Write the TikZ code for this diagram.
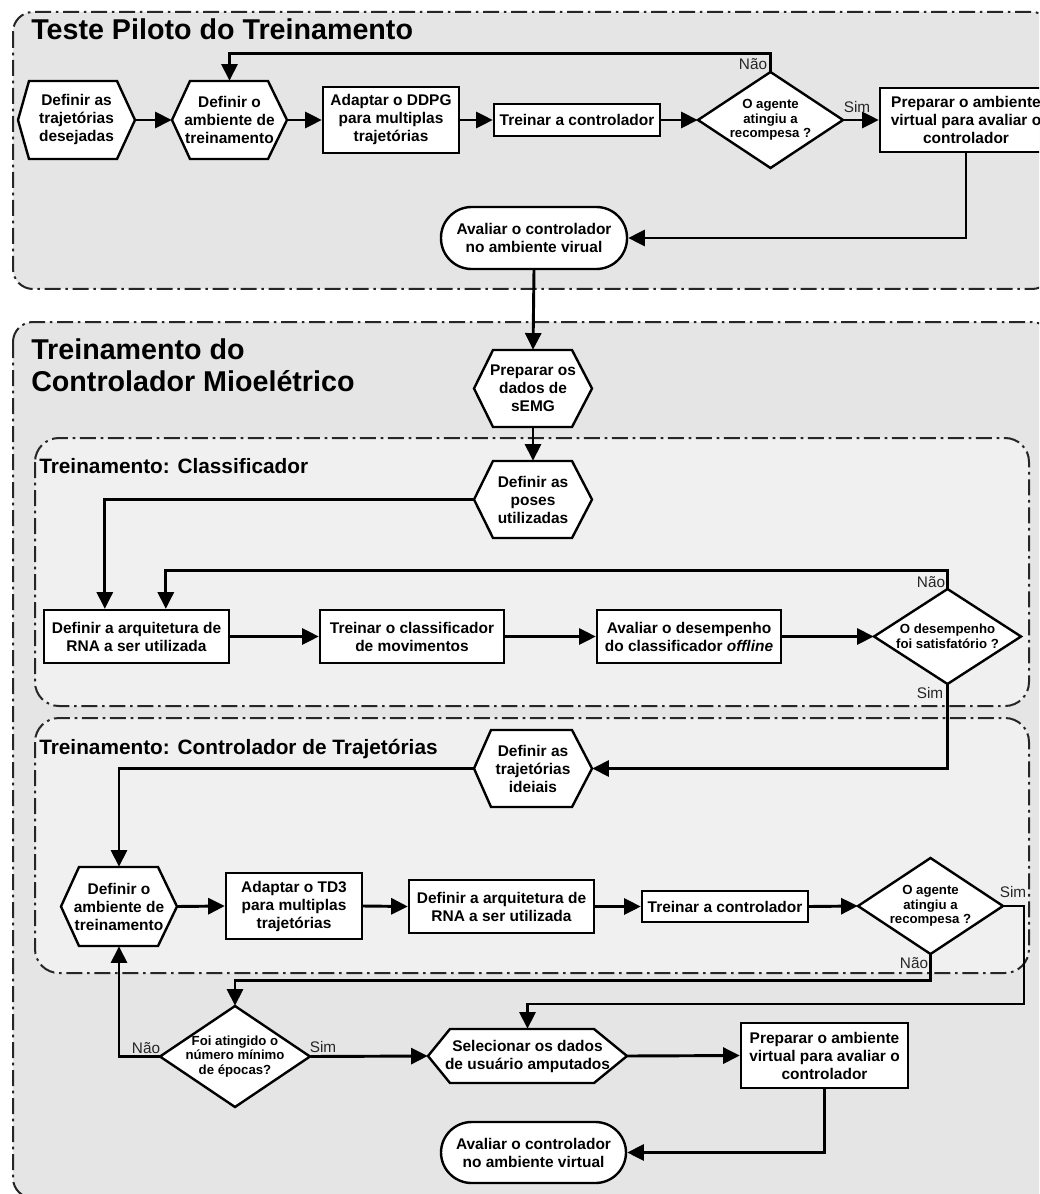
\documentclass[tikz,border=0pt]{standalone}
\usepackage{fontspec}
\setmainfont{Liberation Sans}
\usetikzlibrary{arrows.meta,calc}
\definecolor{outerfill}{HTML}{E5E5E5}
\definecolor{innerfill}{HTML}{F0F0F0}

\tikzset{
  group/.style={line width=1.5pt, dash pattern=on 12pt off 3.5pt on 2pt off 3.5pt, draw=black!85},
  outergroup/.style={group, fill=outerfill, rounded corners=15pt},
  innergroup/.style={group, fill=innerfill, rounded corners=18pt},
  shapeline/.style={draw=black, line width=1.8pt, fill=white, line join=miter},
  txt/.style={font=\bfseries\fontsize{11.6}{13.5}\selectfont, align=center},
  dtxt/.style={font=\bfseries\fontsize{9.9}{11}\selectfont, align=center},
  box/.style={shapeline, txt, inner sep=0pt},
  term/.style={box, rounded corners=23pt},
  ghost/.style={inner sep=0pt, draw=none},
  flow/.style={line width=2.2pt, -{Triangle[length=12.5pt,width=12pt]}},
  answer/.style={font=\fontsize{11.5}{13}\selectfont, text=black!85, inner sep=0pt},
  heading/.style={font=\bfseries\fontsize{21.5}{24}\selectfont, anchor=base west, inner sep=0pt},
  subheading/.style={font=\bfseries\fontsize{15.6}{18}\selectfont, anchor=base west, inner sep=0pt},
}

% rectangle: name, x left, x right, y top, y bottom, text
\newcommand\rectnode[6]{%
  \node[box, minimum width={(#3-#2)*0.75pt}, minimum height={(#5-#4)*0.75pt}]
    (#1) at ({(#2+#3)/2},{(#4+#5)/2}) {#6};}
% terminal (stadium): same arguments
\newcommand\termnode[6]{%
  \node[term, minimum width={(#3-#2)*0.75pt}, minimum height={(#5-#4)*0.75pt}]
    (#1) at ({(#2+#3)/2},{(#4+#5)/2}) {#6};}
% hexagon: name, x left, x right, y top, y bottom, left slant, right slant, text
\newcommand\hexnode[8]{%
  \draw[shapeline] (#2,{(#4+#5)/2}) -- ({#2+#6},#4) -- ({#3-#7},#4) -- (#3,{(#4+#5)/2})
    -- ({#3-#7},#5) -- ({#2+#6},#5) -- cycle;
  \node[ghost, txt, minimum width={(#3-#2)*0.75pt}, minimum height={(#5-#4)*0.75pt}]
    (#1) at ({(#2+#3)/2},{(#4+#5)/2}) {#8};}
% decision diamond: name, centre x, centre y, half width, half height, text
\newcommand\dianode[6]{%
  \draw[shapeline] ({#2-#4},#3) -- (#2,{#3-#5}) -- ({#2+#4},#3) -- (#2,{#3+#5}) -- cycle;
  \node[ghost, dtxt, minimum width={2*#4*0.75pt}, minimum height={2*#5*0.75pt}]
    (#1) at (#2,#3) {#6};}

\begin{document}
\begin{tikzpicture}[x=0.75pt,y=-0.75pt]
\useasboundingbox (0,0) rectangle (1039,1194);
\fill[white] (0,0) rectangle (1039,1194);
\begin{scope}
\clip (0,0) rectangle (1039,1194);

% ---------------- group frames ----------------
\draw[outergroup] (13,12) rectangle (1052,289);
\draw[outergroup] (13,322) rectangle (1052,1198);
\draw[innergroup] (35,438) rectangle (1029,706);
\draw[innergroup] (35,718) rectangle (1029,973);

\node[heading] (title1) at (31,40) {Teste Piloto do Treinamento};
\node[heading] (title2a) at (31,359) {Treinamento do};
\node[heading] (title2b) at (31,391) {Controlador Mioelétrico};
\node[subheading] (title3) at (39,473) {Treinamento: Classificador};
\node[subheading] (title4) at (39,754) {Treinamento: Controlador de Trajetórias};

% ---------------- pilot test ----------------
\hexnode{h1}{18}{135}{81}{159}{11}{18}{Definir as\\trajetórias\\desejadas}
\hexnode{h2}{172}{287}{81}{159}{18}{19}{Definir o\\ambiente de\\treinamento}
\rectnode{ddpg}{323}{459}{87}{153}{Adaptar o DDPG\\para multiplas\\trajetórias}
\rectnode{tr1}{494}{660}{104}{136}{Treinar a controlador}
\dianode{d1}{770.5}{120}{72.5}{48}{O agente\\atingiu a\\recompesa ?}
\rectnode{prep1}{880}{1052}{88}{152}{Preparar o ambiente\\virtual para avaliar o\\controlador}
\termnode{term1}{441}{627}{207}{269}{Avaliar o controlador\\no ambiente virual}

% ---------------- myoelectric controller ----------------
\hexnode{semg}{474}{592}{350}{427}{19}{20}{Preparar os\\dados de\\sEMG}
\hexnode{poses}{474}{592}{461}{538}{19}{20}{Definir as\\poses\\utilizadas}
\rectnode{arq1}{44}{229}{610}{663}{Definir a arquitetura de\\RNA a ser utilizada}
\rectnode{trcls}{320}{504}{610}{663}{Treinar o classificador\\de movimentos}
\rectnode{aval}{597}{781}{610}{663}{Avaliar o desempenho\\do classificador \textit{offline}}
\dianode{d2}{947.5}{636.5}{73.5}{47.5}{O desempenho\\foi satisfatório ?}

\hexnode{ideais}{474}{592}{730}{807}{17}{20}{Definir as\\trajetórias\\ideiais}
\hexnode{env2}{61}{177}{867}{946}{18}{19}{Definir o\\ambiente de\\treinamento}
\rectnode{td3}{226}{362}{873}{939}{Adaptar o TD3\\para multiplas\\trajetórias}
\rectnode{arq2}{409}{594}{880}{933}{Definir a arquitetura de\\RNA a ser utilizada}
\rectnode{tr2}{642}{808}{891}{922}{Treinar a controlador}
\dianode{d3}{930.5}{906}{72.5}{48}{O agente\\atingiu a\\recompesa ?}

\dianode{d4}{235}{1056.5}{75}{50.5}{Foi atingido o\\número mínimo\\de épocas?}
\hexnode{sel}{428}{627}{1029}{1083}{22}{33}{Selecionar os dados\\de usuário amputados}
\rectnode{prep2}{741}{908}{1023}{1088}{Preparar o ambiente\\virtual para avaliar o\\controlador}
\termnode{term2}{441}{626}{1122}{1183}{Avaliar o controlador\\no ambiente virtual}

% ---------------- connectors ----------------
\draw[flow] (h1.east) -- (h2.west);
\draw[flow] (h2.east) -- (ddpg.west);
\draw[flow] (ddpg.east) -- (tr1.west);
\draw[flow] (tr1.east) -- (d1.west);
\draw[flow] (d1.east) -- (prep1.west);
\draw[flow] (d1.north) -- ++(0,-18) -| (h2.north);
\draw[flow] (prep1.south) |- (term1.east);
\draw[flow] (term1.south) -- (semg.north);
\draw[flow] (semg.south) -- (poses.north);

\draw[flow] (poses.west) -| ($(arq1.north west)+(62,0)$);
\draw[flow] (d2.north) -- ++(0,-18) -| ($(arq1.north west)+(123,0)$);
\draw[flow] (arq1.east) -- (trcls.west);
\draw[flow] (trcls.east) -- (aval.west);
\draw[flow] (aval.east) -- (d2.west);
\draw[flow] (d2.south) |- (ideais.east);

\draw[flow] (ideais.west) -| (env2.north);
\draw[flow] (env2.east) -- (td3.west);
\draw[flow] (td3.east) -- (arq2.west);
\draw[flow] (arq2.east) -- (tr2.west);
\draw[flow] (tr2.east) -- (d3.west);
\coordinate (simturn) at (1024,1004);
\draw[flow] (d3.east) -| (simturn) -| (sel.north);
\draw[flow] (d3.south) -- ++(0,26) -| (d4.north);
\draw[flow] (d4.west) -| (env2.south);
\draw[flow] (d4.east) -- (sel.west);
\draw[flow] (sel.east) -- (prep2.west);
\draw[flow] (prep2.south) |- (term2.east);

% ---------------- answers ----------------
\node[answer] (n1) at (753,64) {Não};
\node[answer] (s1) at (857,107) {Sim};
\node[answer] (n2) at (931,582) {Não};
\node[answer] (s2) at (930,693) {Sim};
\node[answer] (s3) at (1013,892) {Sim};
\node[answer] (n3) at (914,963) {Não};
\node[answer] (n4) at (146,1048) {Não};
\node[answer] (s4) at (323,1047) {Sim};
\end{scope}
\end{tikzpicture}
\end{document}
